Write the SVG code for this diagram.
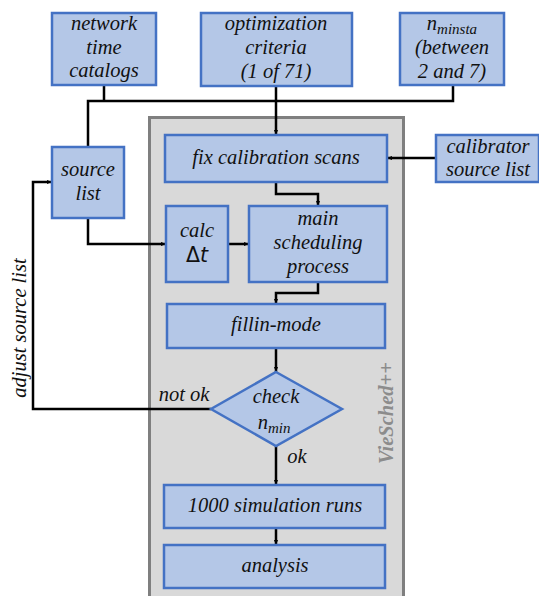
<svg xmlns="http://www.w3.org/2000/svg" width="539" height="596" viewBox="0 0 539 596">
<defs>
<marker id="ah" viewBox="0 0 10 10" refX="10" refY="5" markerWidth="5" markerHeight="5" orient="auto" markerUnits="userSpaceOnUse">
<path d="M0,1 L10,5 L0,9 z" fill="#000"/>
</marker>
<style>
.b{fill:#b4c7e7;stroke:#4472c4;stroke-width:2.5}
.t{font-family:"Liberation Serif",serif;font-style:italic;font-size:20.5px;fill:#111;text-anchor:middle}
.c{fill:none;stroke:#000;stroke-width:2.5}
.a{marker-end:url(#ah)}
</style>
</defs>
<rect x="0" y="0" width="539" height="596" fill="#fff"/>
<g id="container">
<rect x="149.5" y="117.5" width="254" height="482" fill="#d9d9d9" stroke="#7f7f7f" stroke-width="3"/>
<text class="t" transform="translate(393,413) rotate(-90)" font-weight="bold" style="fill:#8c8c8c">VieSched++</text>
</g>
<g id="connectors">
<path class="c" d="M104,85 V101 M88,147 V101 H453 V85"/>
<path class="c a" d="M276,85 V135"/>
<path class="c a" d="M436,158 H387"/>
<path class="c a" d="M276,182 V194 H318 V206"/>
<path class="c a" d="M88,218 V244 H166"/>
<path class="c a" d="M228,244 H249"/>
<path class="c a" d="M318,282 V293 H276 V304"/>
<path class="c a" d="M276,348 V372"/>
<path class="c a" d="M211,409 H33 V182 H52"/>
<path class="c a" d="M276,446 V485"/>
<path class="c a" d="M276,528 V545"/>
<text class="t" x="184" y="401">not ok</text>
<text class="t" x="297" y="463">ok</text>
<text class="t" transform="translate(26,328) rotate(-90)">adjust source list</text>
</g>
<g id="network">
<rect class="b" x="52" y="13" width="104" height="72"/>
<text class="t" x="104" y="30">network</text>
<text class="t" x="104" y="54">time</text>
<text class="t" x="104" y="77">catalogs</text>
</g>
<g id="optimization">
<rect class="b" x="201" y="13" width="151" height="73"/>
<text class="t" x="276" y="30">optimization</text>
<text class="t" x="276" y="54">criteria</text>
<text class="t" x="276" y="78">(1 of 71)</text>
</g>
<g id="nminsta">
<rect class="b" x="400" y="13" width="104" height="72"/>
<text class="t" x="452" y="30">n<tspan font-size="15" dy="4">minsta</tspan></text>
<text class="t" x="452" y="54">(between</text>
<text class="t" x="452" y="78">2 and 7)</text>
</g>
<g id="calibrator">
<rect class="b" x="436" y="135" width="103" height="47"/>
<text class="t" x="488" y="153">calibrator</text>
<text class="t" x="488" y="176">source list</text>
</g>
<g id="fixcal">
<rect class="b" x="165" y="135" width="222" height="47"/>
<text class="t" x="276" y="164">fix calibration scans</text>
</g>
<g id="sourcelist">
<rect class="b" x="52" y="147" width="72" height="71"/>
<text class="t" x="88" y="176">source</text>
<text class="t" x="88" y="200">list</text>
</g>
<g id="calc">
<rect class="b" x="166" y="206" width="62" height="76"/>
<text class="t" x="197" y="237">calc</text>
<text class="t" x="197" y="262" style="font-family:'DejaVu Sans',sans-serif"><tspan style="font-style:normal">Δ</tspan>t</text>
</g>
<g id="main">
<rect class="b" x="249" y="206" width="138" height="76"/>
<text class="t" x="318" y="225">main</text>
<text class="t" x="318" y="249">scheduling</text>
<text class="t" x="318" y="273">process</text>
</g>
<g id="fillin">
<rect class="b" x="167" y="304" width="218" height="44"/>
<text class="t" x="276" y="331">fillin-mode</text>
</g>
<g id="check">
<polygon class="b" points="276,372 342,409 276,446 211,409"/>
<text class="t" x="276" y="403">check</text>
<text class="t" x="274" y="429">n<tspan font-size="15" dy="4">min</tspan></text>
</g>
<g id="sim">
<rect class="b" x="164" y="485" width="221" height="43"/>
<text class="t" x="275" y="512">1000 simulation runs</text>
</g>
<g id="analysis">
<rect class="b" x="164" y="545" width="221" height="43"/>
<text class="t" x="275" y="572">analysis</text>
</g>
</svg>
